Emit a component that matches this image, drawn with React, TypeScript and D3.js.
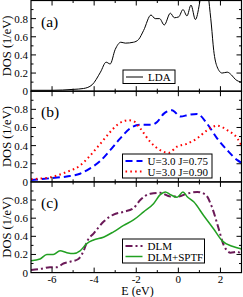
import React from 'react';
import { scaleLinear, line, curveMonotoneX, range } from 'd3';

// energies (eV) and DOS values
const ldaE = [-7, -6, -5, -4.5, -4.1, -3.7, -3.43, -3.24, -3.0, -2.73, -2.52, -2.13, -1.89, -1.65, -1.3, -1.1, -0.89, -0.67, -0.38, -0.19, 0.02, 0.22, 0.41, 0.6, 0.81, 1.0, 1.15, 1.3, 1.45, 1.57, 1.68, 1.84, 2.08, 2.32, 2.52, 2.71, 3.0];
const ldaDos = [0.01, 0.01, 0.02, 0.03, 0.07, 0.21, 0.32, 0.3, 0.46, 0.54, 0.53, 0.54, 0.57, 0.67, 0.84, 0.8, 0.8, 0.73, 0.86, 0.81, 0.82, 0.9, 0.83, 0.95, 0.79, 0.96, 1.2, 1.35, 1.0, 0.73, 0.45, 0.27, 0.2, 0.21, 0.18, 0.13, 0.1];

const j075E = [-7, -6.1, -5.3, -4.67, -4.19, -3.71, -3.24, -2.76, -2.29, -1.81, -1.25, -1.01, -0.7, -0.3, 0.1, 0.49, 0.89, 1.37, 1.84, 2.32, 2.8, 3.0];
const j075Dos = [0.02, 0.04, 0.06, 0.09, 0.15, 0.23, 0.35, 0.48, 0.59, 0.63, 0.63, 0.66, 0.75, 0.79, 0.72, 0.74, 0.75, 0.64, 0.48, 0.35, 0.24, 0.21];

const j090E = [-7, -6.1, -5.3, -4.67, -4.19, -3.71, -3.24, -2.84, -2.37, -2.13, -1.81, -1.33, -0.86, -0.46, -0.06, 0.41, 0.89, 1.37, 1.84, 2.32, 2.8, 3.0];
const j090Dos = [0.03, 0.05, 0.11, 0.18, 0.29, 0.42, 0.55, 0.64, 0.68, 0.67, 0.59, 0.44, 0.35, 0.32, 0.39, 0.42, 0.48, 0.57, 0.62, 0.57, 0.48, 0.4];

const dlmE = [-7, -6.57, -6.1, -5.78, -5.46, -5.14, -4.75, -4.5, -4.32, -4.03, -3.56, -3.08, -2.6, -2.13, -1.81, -1.33, -0.86, -0.38, 0.01, 0.41, 0.89, 1.29, 1.6, 1.92, 2.16, 2.48, 2.8, 3.0];
const dlmDos = [0.03, 0.04, 0.06, 0.06, 0.1, 0.12, 0.15, 0.24, 0.35, 0.43, 0.56, 0.64, 0.67, 0.71, 0.8, 0.87, 0.88, 0.84, 0.84, 0.87, 0.89, 0.86, 0.72, 0.48, 0.3, 0.22, 0.23, 0.2];

const sptfE = [-7, -6.57, -6.25, -5.94, -5.62, -5.3, -4.98, -4.67, -4.35, -4.03, -3.56, -3.08, -2.6, -2.13, -1.65, -1.18, -0.86, -0.62, -0.38, -0.06, 0.22, 0.41, 0.73, 1.2, 1.68, 2.08, 2.56, 3.0];
const sptfDos = [0.13, 0.15, 0.2, 0.2, 0.24, 0.22, 0.21, 0.24, 0.32, 0.36, 0.39, 0.45, 0.52, 0.58, 0.67, 0.76, 0.86, 0.89, 0.86, 0.83, 0.89, 0.84, 0.78, 0.63, 0.48, 0.35, 0.29, 0.26];

const yTickLabels = ['0', '0.2', '0.4', '0.6', '0.8'];
const xTickLabels = ['-6', '-4', '-2', '0', '2'];

const FONT = 'Times New Roman, Liberation Serif, serif';
const LEFT = 31;
const RIGHT = 241.5;
const PH = 90.7;
const TOPS = [0.5, 0.5 + PH, 0.5 + 2 * PH];

const x = scaleLinear().domain([-7, 3]).range([LEFT, RIGHT]);

type Series = { xs: number[]; ys: number[]; color: string; width: number; dash?: string; label: string };

const panels: { tag: string; series: Series[]; legend: { x: number; y: number; w: number } }[] = [
  {
    tag: '(a)',
    series: [{ xs: ldaE, ys: ldaDos, color: '#000', width: 1, label: 'LDA' }],
    legend: { x: 123, y: 70, w: 52 },
  },
  {
    tag: '(b)',
    series: [
      { xs: j075E, ys: j075Dos, color: '#0000ff', width: 2, dash: '7,4', label: 'U=3.0 J=0.75' },
      { xs: j090E, ys: j090Dos, color: '#ff0000', width: 2, dash: '1.6,3.2', label: 'U=3.0 J=0.90' },
    ],
    legend: { x: 122.5, y: 154, w: 89.5 },
  },
  {
    tag: '(c)',
    series: [
      { xs: dlmE, ys: dlmDos, color: '#6b1a58', width: 2, dash: '7,3,2,3', label: 'DLM' },
      { xs: sptfE, ys: sptfDos, color: '#22a022', width: 1.5, label: 'DLM+SPTF' },
    ],
    legend: { x: 122.5, y: 239, w: 82 },
  },
];

function Panel({ idx }: { idx: number }) {
  const p = panels[idx];
  const top = TOPS[idx];
  const bottom = top + PH;
  const y = scaleLinear().domain([0, 1]).range([bottom, top]);
  const clipId = `clip${idx}`;
  const xMinor = range(-6, 3, 1);
  const yMinor = range(0.1, 1, 0.1);
  const rowH = 10.5;
  const legH = p.series.length * rowH + 3;
  return (
    <g>
      <defs>
        <clipPath id={clipId}>
          <rect x={LEFT} y={top} width={RIGHT - LEFT} height={PH} />
        </clipPath>
      </defs>
      <g clipPath={`url(#${clipId})`}>
        {p.series.map((s, i) => {
          const pts = s.xs.map((e, k) => [e, s.ys[k]] as [number, number]);
          const d = line<[number, number]>()
            .x((d) => x(d[0]))
            .y((d) => y(d[1]))
            .curve(curveMonotoneX)(pts);
          return (
            <path key={i} d={d || ''} fill="none" stroke={s.color} strokeWidth={s.width} strokeDasharray={s.dash} />
          );
        })}
      </g>
      {/* ticks */}
      {xMinor.map((v) => {
        const len = v % 2 === 0 ? 5 : 2.5;
        return (
          <g key={'x' + v} stroke="#000" strokeWidth={1}>
            <line x1={x(v)} x2={x(v)} y1={bottom} y2={bottom - len} />
            <line x1={x(v)} x2={x(v)} y1={top} y2={top + len} />
          </g>
        );
      })}
      {yMinor.map((v, k) => {
        const len = k % 2 === 1 ? 5 : 2.5;
        return (
          <g key={'y' + k} stroke="#000" strokeWidth={1}>
            <line x1={LEFT} x2={LEFT + len} y1={y(v)} y2={y(v)} />
            <line x1={RIGHT} x2={RIGHT - len} y1={y(v)} y2={y(v)} />
          </g>
        );
      })}
      <rect x={LEFT} y={top} width={RIGHT - LEFT} height={PH} fill="none" stroke="#000" strokeWidth={1.2} />
      {yTickLabels.map((t, k) => (
        <text key={t} x={28} y={y(k * 0.2) + 4} fontSize={11} fontFamily={FONT} textAnchor="end">
          {t}
        </text>
      ))}
      <text x={41} y={top + 26} fontSize={15.5} fontFamily={FONT}>
        {p.tag}
      </text>
      <text
        transform={`translate(11,${top + PH / 2}) rotate(-90)`}
        fontSize={12.5}
        fontFamily={FONT}
        textAnchor="middle"
      >
        DOS (1/eV)
      </text>
      {/* legend */}
      <rect x={p.legend.x} y={p.legend.y} width={p.legend.w} height={legH} fill="#fff" stroke="#000" strokeWidth={1} />
      {p.series.map((s, i) => {
        const ly = p.legend.y + 7 + i * rowH;
        return (
          <g key={'l' + i}>
            <line
              x1={p.legend.x + 3}
              x2={p.legend.x + 20}
              y1={ly}
              y2={ly}
              stroke={s.color}
              strokeWidth={s.width}
              strokeDasharray={s.dash}
            />
            <text x={p.legend.x + 25} y={ly + 4} fontSize={11} fontFamily={FONT}>
              {s.label}
            </text>
          </g>
        );
      })}
    </g>
  );
}

export default function App() {
  const bottom = TOPS[2] + PH;
  return (
    <svg
      width={243}
      height={297}
      style={{ position: 'absolute', left: 0, top: 0, background: '#fff' }}
    >
      {panels.map((_, i) => (
        <Panel key={i} idx={i} />
      ))}
      {xTickLabels.map((t) => (
        <text key={t} x={x(+t)} y={bottom + 10} fontSize={11} fontFamily={FONT} textAnchor="middle">
          {t}
        </text>
      ))}
      <text x={137.5} y={bottom + 22.5} fontSize={12} fontFamily={FONT} textAnchor="middle">
        E (eV)
      </text>
    </svg>
  );
}
